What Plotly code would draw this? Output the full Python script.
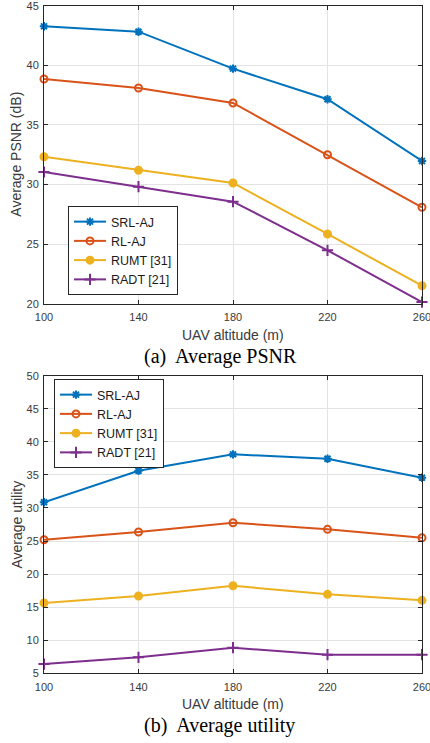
import plotly.graph_objects as go

altitude = [100, 140, 180, 220, 260]
series_names = ["SRL-AJ", "RL-AJ", "RUMT [31]", "RADT [21]"]

psnr_srl = [43.27, 42.82, 39.72, 37.15, 31.97]
psnr_rl = [38.85, 38.10, 36.84, 32.50, 28.09]
psnr_rumt = [32.33, 31.20, 30.13, 25.85, 21.51]
psnr_radt = [31.05, 29.82, 28.56, 24.48, 20.14]

util_srl = [30.86, 35.63, 38.11, 37.45, 34.58]
util_rl = [25.20, 26.36, 27.77, 26.77, 25.50]
util_rumt = [15.63, 16.69, 18.24, 16.94, 16.03]
util_radt = [6.40, 7.41, 8.87, 7.81, 7.81]

x_ticks = [100, 140, 180, 220, 260]
psnr_ticks = [20, 25, 30, 35, 40, 45]
util_ticks = [5, 10, 15, 20, 25, 30, 35, 40, 45, 50]

colors = ["#0072BD", "#D95319", "#EDB120", "#7E2F8E"]
symbols = ["asterisk-open", "circle-open", "circle", "cross-thin-open"]
msizes = [7, 7, 7, 8]

W, H = 430, 743
def px_x(p):
    return p / W
def px_y(p):
    return 1 - p / H

fig = go.Figure()

top = [psnr_srl, psnr_rl, psnr_rumt, psnr_radt]
bot = [util_srl, util_rl, util_rumt, util_radt]

for i in range(4):
    mk = dict(symbol=symbols[i], size=msizes[i], color=colors[i],
              line=dict(color=colors[i], width=2))
    fig.add_trace(go.Scatter(x=altitude, y=top[i], name=series_names[i],
                             mode="lines+markers", line=dict(color=colors[i], width=2),
                             marker=mk, xaxis="x", yaxis="y", legend="legend",
                             cliponaxis=False))
for i in range(4):
    mk = dict(symbol=symbols[i], size=msizes[i], color=colors[i],
              line=dict(color=colors[i], width=2))
    fig.add_trace(go.Scatter(x=altitude, y=bot[i], name=series_names[i],
                             mode="lines+markers", line=dict(color=colors[i], width=2),
                             marker=mk, xaxis="x2", yaxis="y2", legend="legend2",
                             cliponaxis=False))

axcol = "#262626"
tickfont = dict(family="Liberation Sans, Arial, sans-serif", size=11, color="#3a3a3a")
common = dict(showline=True, linecolor=axcol, linewidth=1, mirror="ticks",
              ticks="inside", ticklen=4, tickcolor=axcol, tickwidth=1,
              showgrid=True, gridcolor="#e3e3e3", gridwidth=1, zeroline=False,
              tickfont=tickfont, automargin=False, ticklabeloverflow="allow")

legfont = dict(family="Liberation Sans, Arial, sans-serif", size=12.5, color="#1a1a1a")
xdom = [px_x(44), px_x(422)]
fig.update_layout(
    width=W, height=H,
    margin=dict(l=0, r=0, t=0, b=0, autoexpand=False),
    paper_bgcolor="white", plot_bgcolor="white",
    showlegend=True,
    xaxis=dict(domain=xdom, range=[100, 260], tickvals=x_ticks, anchor="y",
               ticklabelstandoff=3, **common),
    yaxis=dict(domain=[px_y(303.7), px_y(5.7)], range=[20, 45], tickvals=psnr_ticks,
               anchor="x", ticklabelstandoff=2, **common),
    xaxis2=dict(domain=xdom, range=[100, 260], tickvals=x_ticks, anchor="y2",
                ticklabelstandoff=3, **common),
    yaxis2=dict(domain=[px_y(673.3), px_y(375.7)], range=[5, 50], tickvals=util_ticks,
                anchor="x2", ticklabelstandoff=2, **common),
    legend=dict(x=px_x(68), y=px_y(206), xanchor="left", yanchor="top",
                bgcolor="white", bordercolor=axcol, borderwidth=1, font=legfont,
                tracegroupgap=0, itemwidth=32),
    legend2=dict(x=px_x(54), y=px_y(379), xanchor="left", yanchor="top",
                 bgcolor="white", bordercolor=axcol, borderwidth=1, font=legfont,
                 tracegroupgap=0, itemwidth=32),
)

title_font = dict(family="Liberation Sans, Arial, sans-serif", size=14, color="#3a3a3a")
cap_font = dict(family="Liberation Serif, Times New Roman, serif", size=20, color="black")
annos = [
    dict(text="UAV altitude (m)", x=px_x(233), y=px_y(335), font=title_font),
    dict(text="UAV altitude (m)", x=px_x(233), y=px_y(704), font=title_font),
    dict(text="Average PSNR (dB)", x=px_x(16), y=px_y(154.7), font=title_font, textangle=-90),
    dict(text="Average utility", x=px_x(16), y=px_y(524.5), font=title_font, textangle=-90),
    dict(text="(a)  Average PSNR", x=px_x(220), y=px_y(357), font=cap_font),
    dict(text="(b)  Average utility", x=px_x(219), y=px_y(725), font=cap_font),
]
for a in annos:
    fig.add_annotation(xref="paper", yref="paper", xanchor="center", yanchor="middle",
                       showarrow=False, **a)

fig.write_html("out.html", config={"displayModeBar": False},
               post_script="document.body.style.margin='0';document.body.style.overflow='hidden';")
